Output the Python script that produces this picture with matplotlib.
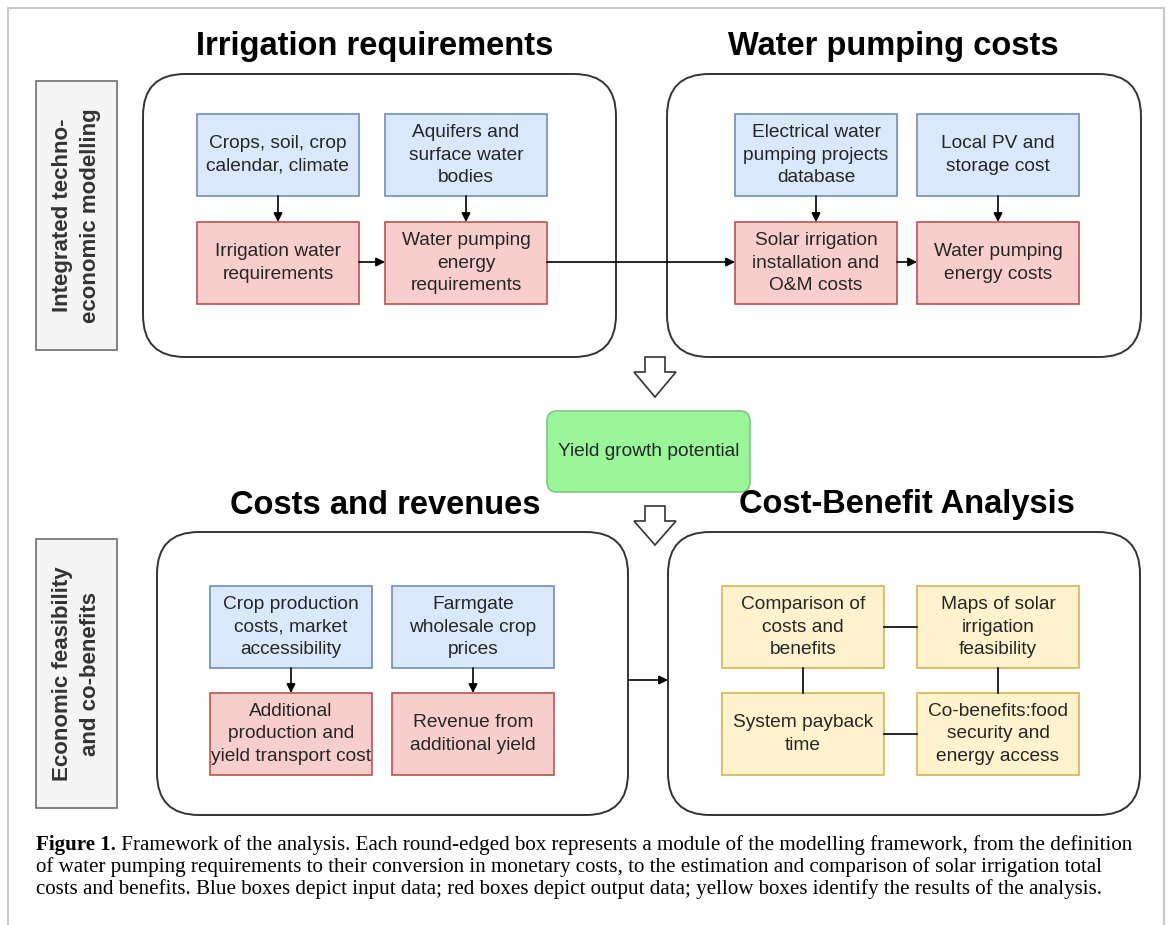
"""Framework of the analysis - flowchart of modules, inputs, outputs and results."""

import matplotlib

matplotlib.use("Agg")
import matplotlib.pyplot as plt
from matplotlib.patches import FancyBboxPatch, Polygon, Rectangle

W, H = 1169, 925
DPI = 100
SANS = ["Liberation Sans", "DejaVu Sans"]
SERIF = ["Liberation Serif", "DejaVu Serif"]

# ------------------------------------------------------------
# Texts
# ------------------------------------------------------------
PANEL_TITLES = [
    "Irrigation requirements",
    "Water pumping costs",
    "Costs and revenues",
    "Cost-Benefit Analysis",
]
SIDE_LABELS = [
    "Integrated techno-\neconomic modelling",
    "Economic feasibility\nand co-benefits",
]
INPUT_BOXES = [
    "Crops, soil, crop\ncalendar, climate",
    "Aquifers and\nsurface water\nbodies",
    "Electrical water\npumping projects\ndatabase",
    "Local PV and\nstorage cost",
    "Crop production\ncosts, market\naccessibility",
    "Farmgate\nwholesale crop\nprices",
]
OUTPUT_BOXES = [
    "Irrigation water\nrequirements",
    "Water pumping\nenergy\nrequirements",
    "Solar irrigation\ninstallation and\nO&M costs",
    "Water pumping\nenergy costs",
    "Additional\nproduction and\nyield transport cost",
    "Revenue from\nadditional yield",
]
RESULT_BOXES = [
    "Comparison of\ncosts and\nbenefits",
    "Maps of solar\nirrigation\nfeasibility",
    "System payback\ntime",
    "Co-benefits:food\nsecurity and\nenergy access",
]
HUB_LABEL = "Yield growth potential"
CAPTION_HEAD = "Figure 1."
CAPTION_LINES = [
    " Framework of the analysis. Each round-edged box represents a module of the "
    "modelling framework, from the definition",
    "of water pumping requirements to their conversion in monetary costs, to the "
    "estimation and comparison of solar irrigation total",
    "costs and benefits. Blue boxes depict input data; red boxes depict output data; "
    "yellow boxes identify the results of the analysis.",
]

# ------------------------------------------------------------
# Layout (pixel coordinates, y down)
# ------------------------------------------------------------
PANELS = [(143, 74, 616, 357), (667, 74, 1141, 357), (157, 532, 628, 815), (668, 532, 1140, 815)]
TITLE_POS = [(375, 47), (893, 47), (385, 506), (907, 504)]
SIDE_POS = [(36, 81, 117, 350), (36, 539, 117, 808)]
INPUT_POS = [(197, 114), (385, 114), (735, 114), (917, 114), (210, 586), (392, 586)]
OUTPUT_POS = [(197, 222), (385, 222), (735, 222), (917, 222), (210, 693), (392, 693)]
RESULT_POS = [(722, 586), (917, 586), (722, 693), (917, 693)]
BW, BH = 162, 82

BLUE = ("#dae8fc", "#6c8ebf")
RED = ("#f8cecc", "#b85450")
YELLOW = ("#fff2cc", "#d6b656")
GREEN = ("#99f799", "#82c482")
GRAYBOX = ("#f4f4f4", "#6e6e6e")
TXT = "#262626"

fig = plt.figure(figsize=(W / DPI, H / DPI), dpi=DPI)
ax = fig.add_axes([0, 0, 1, 1])
ax.set_xlim(0, W)
ax.set_ylim(H, 0)
ax.axis("off")

# outer frame
ax.plot([8, 8, 1164, 1164], [H, 8, 8, H], color="#c8c8c8", lw=1.5)


def box(x, y, text, colors, w=BW, h=BH, fs=13.8):
    ax.add_patch(Rectangle((x, y), w, h, facecolor=colors[0], edgecolor=colors[1], lw=1.2))
    ax.text(x + w / 2, y + h / 2, text, ha="center", va="center", fontsize=fs,
            family=SANS, color=TXT, linespacing=1.45)


def arrow(x0, y0, x1, y1):
    ax.annotate("", xy=(x1, y1), xytext=(x0, y0),
                arrowprops={"arrowstyle": "-|>", "color": "black", "lw": 1.2,
                            "mutation_scale": 13, "shrinkA": 0, "shrinkB": 0})


def hollow_arrow(cx, top, head, tip):
    pts = [(cx - 10, top), (cx + 10, top), (cx + 10, head), (cx + 21, head),
           (cx, tip), (cx - 21, head), (cx - 10, head)]
    ax.add_patch(Polygon(pts, closed=True, facecolor="white", edgecolor="#333333", lw=1.2))


# panels and titles
for (x0, y0, x1, y1), title, (tx, ty) in zip(PANELS, PANEL_TITLES, TITLE_POS):
    ax.add_patch(FancyBboxPatch((x0, y0), x1 - x0, y1 - y0,
                                boxstyle="round,pad=0,rounding_size=42",
                                facecolor="white", edgecolor="#333333", lw=1.4))
    ax.text(tx, ty, title, ha="center", va="center", fontsize=23.5,
            fontweight="bold", family=SANS, color="black")

# side labels
for (x0, y0, x1, y1), label in zip(SIDE_POS, SIDE_LABELS):
    ax.add_patch(Rectangle((x0, y0), x1 - x0, y1 - y0, facecolor=GRAYBOX[0],
                           edgecolor=GRAYBOX[1], lw=1.2))
    ax.text((x0 + x1) / 2, (y0 + y1) / 2, label, ha="center", va="center",
            rotation=90, fontsize=16, fontweight="bold", family=SANS,
            color="#333333", linespacing=1.45)

# boxes
for (x, y), t in zip(INPUT_POS, INPUT_BOXES):
    box(x, y, t, BLUE)
for (x, y), t in zip(OUTPUT_POS, OUTPUT_BOXES):
    box(x, y, t, RED)
for (x, y), t in zip(RESULT_POS, RESULT_BOXES):
    box(x, y, t, YELLOW)

# vertical input -> output arrows
for (xi, yi), (xo, yo) in zip(INPUT_POS, OUTPUT_POS):
    arrow(xi + BW / 2, yi + BH, xo + BW / 2, yo)

# horizontal arrows
arrow(OUTPUT_POS[0][0] + BW, 262, OUTPUT_POS[1][0], 262)
arrow(OUTPUT_POS[1][0] + BW, 262, OUTPUT_POS[2][0], 262)
arrow(OUTPUT_POS[2][0] + BW, 262, OUTPUT_POS[3][0], 262)
arrow(PANELS[2][2], 680, PANELS[3][0], 680)

# result connectors
r = RESULT_POS
ax.plot([r[0][0] + BW, r[1][0]], [r[0][1] + BH / 2] * 2, color="black", lw=1.2)
ax.plot([r[2][0] + BW, r[3][0]], [r[2][1] + BH / 2] * 2, color="black", lw=1.2)
ax.plot([r[0][0] + BW / 2] * 2, [r[0][1] + BH, r[2][1]], color="black", lw=1.2)
ax.plot([r[1][0] + BW / 2] * 2, [r[1][1] + BH, r[3][1]], color="black", lw=1.2)

# hub box and hollow arrows
ax.add_patch(FancyBboxPatch((547, 411), 203, 81, boxstyle="round,pad=0,rounding_size=10",
                            facecolor=GREEN[0], edgecolor=GREEN[1], lw=1.2))
ax.text(648.5, 451.5, HUB_LABEL, ha="center", va="center", fontsize=13.8,
        family=SANS, color=TXT)
hollow_arrow(655, 357, 372, 397)
hollow_arrow(655, 506, 521, 545)

# caption, fitted to the text width
renderer = fig.canvas.get_renderer()
cap_x0, cap_x1 = 36, 1137
cap_y = [845, 867, 889]
fs = 14.0
head = ax.text(cap_x0, cap_y[0], CAPTION_HEAD, ha="left", va="center", fontsize=fs,
               fontweight="bold", family=SERIF)
rest = ax.text(cap_x0, cap_y[0], CAPTION_LINES[0], ha="left", va="center",
               fontsize=fs, family=SERIF)
total = head.get_window_extent(renderer).width + rest.get_window_extent(renderer).width
fs = fs * (cap_x1 - cap_x0) / total
head.set_fontsize(fs)
rest.set_fontsize(fs)
hw = head.get_window_extent(renderer).width
rest.set_x(cap_x0 + hw)
for line, y in zip(CAPTION_LINES[1:], cap_y[1:]):
    ax.text(cap_x0, y, line, ha="left", va="center", fontsize=fs, family=SERIF)

fig.savefig("out.png", dpi=DPI, facecolor="white")
